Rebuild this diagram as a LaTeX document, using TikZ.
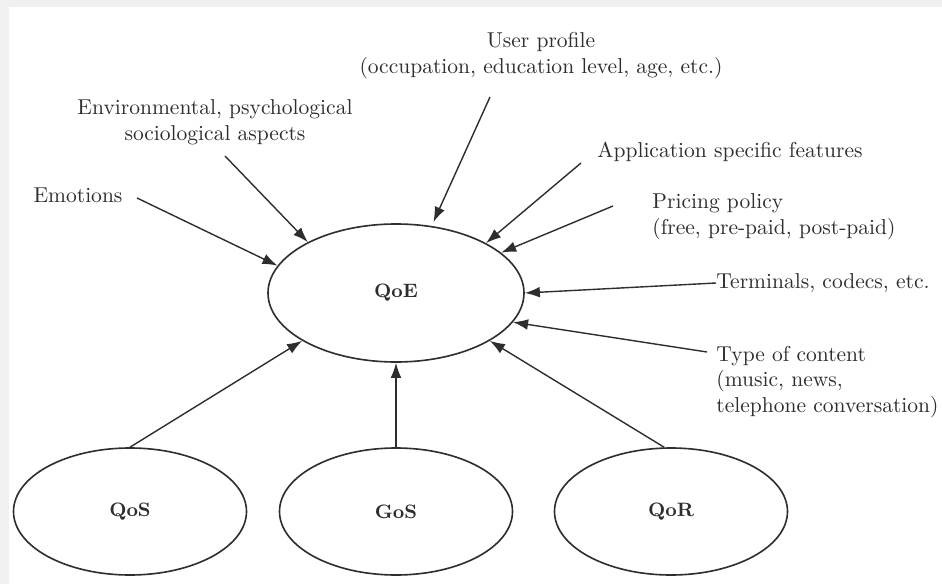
\documentclass[tikz,border=0pt]{standalone}
\usetikzlibrary{shapes.geometric,arrows.meta}
\definecolor{ink}{HTML}{2E2E2E}
\definecolor{frame}{HTML}{F0F0F0}
\tikzset{
  factor/.style={ellipse, draw=ink, line width=0.75pt, inner sep=0pt,
    font=\small\bfseries, text=ink},
  bigfactor/.style={factor, minimum width={256*0.4645pt}, minimum height={138*0.4645pt}},
  smallfactor/.style={factor, minimum width={233*0.4645pt}, minimum height={127*0.4645pt}},
  lbl/.style={inner sep=0pt, text=ink, font=\normalsize},
  infl/.style={draw=ink, line width=0.65pt, -{Latex[length=7pt,width=5pt]}},
}
\begin{document}
\begin{tikzpicture}[x=0.4645pt, y=-0.4645pt]
  \useasboundingbox (0,0) rectangle (942,584);
  % page frame
  \fill[frame] (0,0) rectangle (942,584);
  \fill[white] (9,7) rectangle (942,584);

  % central and lower ellipses
  \node[bigfactor] (qoe) at (396,293) {QoE};
  \node[smallfactor] (qos) at (130,511.5) {QoS};
  \node[smallfactor] (gos) at (396,511.5) {GoS};
  \node[smallfactor] (qor) at (671,511.5) {QoR};

  % influence labels
  \node[lbl, align=center] (user) at (541,56) {User profile\\(occupation, education level, age, etc.)};
  \node[lbl, align=center] (env) at (215,122) {Environmental, psychological\\sociological aspects};
  \node[lbl] (emo) at (78,195) {Emotions};
  \node[lbl, anchor=west] (app) at (597,152) {Application specific features};
  \node[lbl, anchor=west, align=left] (price) at (652,217) {Pricing policy\\(free, pre-paid, post-paid)};
  \node[lbl, anchor=west] (term) at (716,283) {Terminals, codecs, etc.};
  \node[lbl, anchor=west, align=left] (type) at (716,382) {Type of content\\(music, news,\\telephone conversation)};

  % free ends of the influence arrows
  \coordinate (emo-s) at (137,198);
  \coordinate (env-s) at (225,156);
  \coordinate (user-s) at (490,97);
  \coordinate (app-s) at (581,163);
  \coordinate (price-s) at (613,206);
  \coordinate (type-s) at (707,352);

  % arrows into QoE
  \draw[infl] (emo-s) -- (qoe.167);
  \draw[infl] (env-s) -- (qoe.150);
  \draw[infl, shorten >=2pt] (user-s) -- (qoe.62);
  \draw[infl] (app-s) -- (qoe.29);
  \draw[infl] (price-s) -- (qoe.21);
  \draw[infl] (term.west) -- (qoe.east);
  \draw[infl] (type-s) -- (qoe.-14);
  \draw[infl] (qos.north) -- (qoe.207.5);
  \draw[infl] (gos.north) -- (qoe.south);
  \draw[infl] (qor.96) -- (qoe.-27);
\end{tikzpicture}
\end{document}
